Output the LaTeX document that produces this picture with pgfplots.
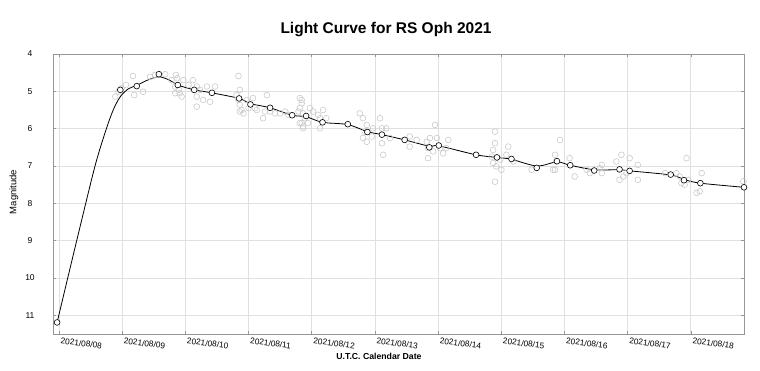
\documentclass[border=0pt]{standalone}
\usepackage{fontspec}
\setmainfont{Liberation Sans}
\usepackage{pgfplots}
\pgfplotsset{compat=1.18}
\definecolor{gridc}{RGB}{224,224,224}
\definecolor{axc}{RGB}{150,150,150}
\definecolor{obsc}{RGB}{202,202,202}
\begin{document}
\begin{tikzpicture}[x=1pt,y=1pt]
\path[use as bounding box] (0,0) rectangle (760,370);
\begin{axis}[
  at={(53pt,36pt)}, anchor=south west,
  width=691pt, height=280pt, scale only axis,
  xmin=7.905, xmax=18.84, ymin=4, ymax=11.5, y dir=reverse,
  xtick={8,9,10,11,12,13,14,15,16,17,18},
  xticklabels={2021/08/08,2021/08/09,2021/08/10,2021/08/11,2021/08/12,2021/08/13,2021/08/14,2021/08/15,2021/08/16,2021/08/17,2021/08/18},
  ytick={4,5,6,7,8,9,10,11},
  grid=major, major grid style={gridc, line width=0.9pt},
  axis line style={axc, line width=1pt},
  tick style={axc, line width=0.8pt}, tick align=inside, major tick length=3pt,
  /pgf/number format/assume math mode=true,
  yticklabel style={font=\fontsize{8.5}{9}\selectfont, anchor=center, xshift=-23pt},
  xticklabel style={font=\fontsize{8.3}{9}\selectfont, rotate=-7, anchor=north west, xshift=-1pt, yshift=0pt},
]
\addplot[only marks, mark=o, mark size=2.9pt, mark options={draw=obsc, line width=0.6pt}] table {
8.89 5.14
8.94 5.01
8.99 4.92
9.06 4.83
9.17 4.59
9.19 5.10
9.33 5.01
9.44 4.61
9.52 4.56
9.68 4.54
9.78 4.70
9.85 4.56
9.87 4.65
9.84 4.87
9.90 4.96
9.91 5.05
9.94 5.14
9.97 4.70
10.05 4.83
10.12 4.70
10.18 4.87
10.23 4.96
10.18 5.14
10.28 5.23
10.39 5.28
10.47 4.87
10.34 4.87
10.18 5.41
9.84 5.05
10.84 4.59
10.86 5.36
10.86 5.54
11.23 5.72
11.29 5.10
11.50 5.59
11.84 5.23
11.84 5.85
11.86 5.94
10.86 4.96
10.81 5.10
10.84 5.23
10.89 5.50
10.92 5.59
10.97 5.23
11.00 5.45
11.07 5.18
11.10 5.45
11.13 5.50
11.26 5.54
11.34 5.54
11.42 5.59
11.58 5.54
11.63 5.63
11.81 5.18
11.84 5.32
11.81 5.45
11.79 5.54
11.86 5.59
11.89 5.72
11.94 5.85
11.97 5.45
12.02 5.54
12.10 5.63
12.13 5.72
12.18 5.50
12.23 5.72
12.13 5.99
11.86 5.99
11.81 5.85
12.76 5.59
12.81 5.72
12.87 5.90
12.84 6.08
12.81 6.25
12.87 6.35
12.95 6.21
12.97 5.99
13.08 5.72
13.11 5.99
13.11 6.39
13.13 6.70
13.18 5.99
13.24 6.25
13.55 6.48
13.55 6.21
13.66 6.30
13.82 6.35
13.84 6.52
13.87 6.25
13.92 6.61
13.95 5.90
13.98 6.25
14.03 6.52
14.08 6.66
14.13 6.52
14.16 6.30
13.84 6.79
14.90 6.08
14.90 6.39
14.87 6.57
14.85 6.75
14.87 6.92
14.92 7.01
15.00 7.10
14.90 7.42
15.11 6.48
15.08 6.70
15.19 6.88
14.98 6.83
15.48 7.10
15.85 6.70
15.87 6.88
15.85 7.10
15.93 6.30
16.08 6.79
16.16 7.28
16.35 7.10
16.40 7.19
16.56 7.06
16.59 7.19
16.59 6.97
16.82 6.88
16.90 6.70
16.87 7.37
16.93 7.28
16.98 7.19
17.03 6.79
17.16 6.97
17.16 7.37
17.59 7.19
17.77 7.19
17.82 7.28
17.85 7.46
17.90 7.50
17.93 6.79
17.96 7.37
18.09 7.72
18.14 7.68
18.17 7.19
18.83 7.41
18.85 7.77
15.82 7.10
};
\addplot[black, line width=0.8pt, smooth, tension=0.5, mark=none] table {
7.97 11.19
8.28 9.00
8.57 7.00
8.75 6.00
8.87 5.45
8.98 5.12
9.10 4.93
9.23 4.84
9.40 4.70
9.58 4.61
9.75 4.70
9.88 4.83
10.14 4.96
10.42 5.04
10.85 5.19
11.03 5.33
11.34 5.44
11.69 5.64
11.91 5.68
12.17 5.83
12.57 5.89
12.88 6.08
13.11 6.16
13.47 6.30
13.86 6.47
14.01 6.46
14.60 6.70
14.93 6.77
15.16 6.82
15.56 7.00
15.88 6.89
16.09 6.98
16.47 7.10
16.87 7.10
17.03 7.13
17.68 7.24
17.89 7.36
18.15 7.46
18.84 7.57
};
\addplot[only marks, mark=*, mark size=2.9pt, mark options={fill=white, draw=black, line width=0.6pt}] table {
7.97 11.19
8.97 4.96
9.23 4.86
9.58 4.54
9.88 4.83
10.14 4.96
10.42 5.04
10.85 5.19
11.03 5.35
11.34 5.44
11.69 5.64
11.91 5.66
12.17 5.83
12.57 5.88
12.88 6.09
13.11 6.16
13.47 6.30
13.86 6.50
14.01 6.45
14.60 6.70
14.93 6.77
15.16 6.81
15.56 7.05
15.88 6.87
16.09 6.98
16.47 7.12
16.87 7.09
17.03 7.13
17.68 7.23
17.89 7.38
18.15 7.46
18.84 7.57
};
\end{axis}
\node[font=\bfseries\fontsize{15.5}{18}\selectfont] at (386,340) {Light Curve for RS Oph 2021};
\node[font=\bfseries\fontsize{8.7}{10}\selectfont] at (379,14) {U.T.C. Calendar Date};
\node[font=\fontsize{9.5}{11}\selectfont, rotate=90] at (14,178) {Magnitude};
\end{tikzpicture}
\end{document}
